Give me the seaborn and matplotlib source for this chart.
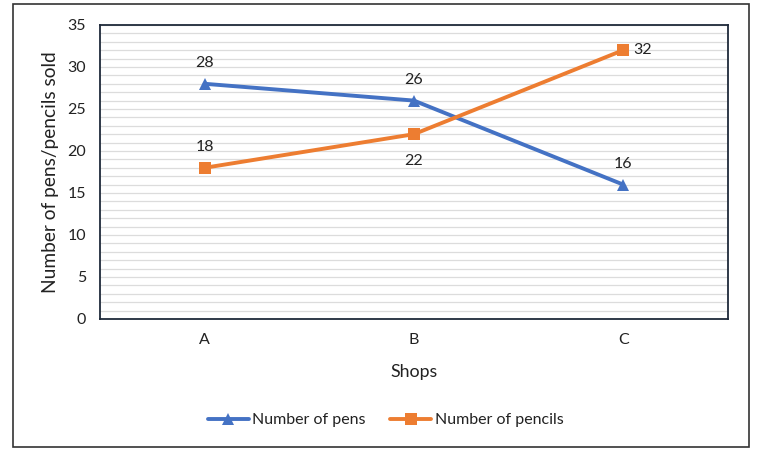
import matplotlib
matplotlib.use("Agg")
import matplotlib.pyplot as plt
import seaborn as sns
import pandas as pd
from matplotlib.patches import Rectangle

shops = ["A", "B", "C"]
pens = [28, 26, 16]
pencils = [18, 22, 32]
series_names = ["Number of pens", "Number of pencils"]
y_ticks = [0, 5, 10, 15, 20, 25, 30, 35]

sns.set_theme(style="white")
plt.rcParams['font.family'] = ['Lato', 'DejaVu Sans']

df = pd.DataFrame({
    "Shops": shops * 2,
    "value": pens + pencils,
    "series": [series_names[0]] * 3 + [series_names[1]] * 3,
})

fig = plt.figure(figsize=(7.71, 4.51), dpi=100)
ax = fig.add_axes([0.1297, 0.2927, 0.8143, 0.6519])

palette = {series_names[0]: "#4472C4", series_names[1]: "#ED7D31"}
markers = {series_names[0]: "^", series_names[1]: "s"}
sns.lineplot(data=df, x="Shops", y="value", hue="series", style="series",
             palette=palette, markers=markers, dashes=False, linewidth=2.8,
             markersize=9, markeredgewidth=0, ax=ax, sort=False)

ax.set_xlim(-0.5, 2.5)
ax.set_ylim(0, 35)
ax.set_yticks(y_ticks)
ax.set_yticks(range(0, 36), minor=True)
ax.grid(True, which="both", axis="y", color="#DCDCDC", linewidth=0.9)
ax.set_axisbelow(True)
ax.tick_params(axis="both", which="both", length=0, labelsize=11.5, colors="#222222", pad=10)
for s in ax.spines.values():
    s.set_color("#1F2A3A")
    s.set_linewidth(1.3)

ax.set_xlabel("Shops", fontsize=12.8, color="#222222", labelpad=12)
ax.set_ylabel("Number of pens/pencils sold", fontsize=13.8, color="#222222", labelpad=6)

# data labels
for i, v in enumerate(pens):
    ax.annotate(str(v), (i, v), xytext=(0, 10), textcoords="offset points",
                ha="center", va="bottom", fontsize=11.5, color="#222222")
for i, v in enumerate(pencils):
    if i == 0:
        ax.annotate(str(v), (i, v), xytext=(0, 10), textcoords="offset points",
                    ha="center", va="bottom", fontsize=11.5, color="#222222")
    elif i == 1:
        ax.annotate(str(v), (i, v), xytext=(0, -14), textcoords="offset points",
                    ha="center", va="top", fontsize=11.5, color="#222222")
    else:
        ax.annotate(str(v), (i, v), xytext=(7, 0), textcoords="offset points",
                    ha="left", va="center", fontsize=11.5, color="#222222")

leg = ax.legend(loc="center", bbox_to_anchor=(0.5, 0.068), bbox_transform=fig.transFigure,
                ncol=2, frameon=False, fontsize=11.5, handlelength=2.6, handletextpad=0.2,
                columnspacing=1.5)
for t in leg.get_texts():
    t.set_color("#222222")

fig.patches.append(Rectangle((13 / 771, 4 / 451), 736 / 771, 443 / 451,
                             transform=fig.transFigure, fill=False,
                             edgecolor="#333333", linewidth=1.2))

fig.savefig("out.png", dpi=100)
